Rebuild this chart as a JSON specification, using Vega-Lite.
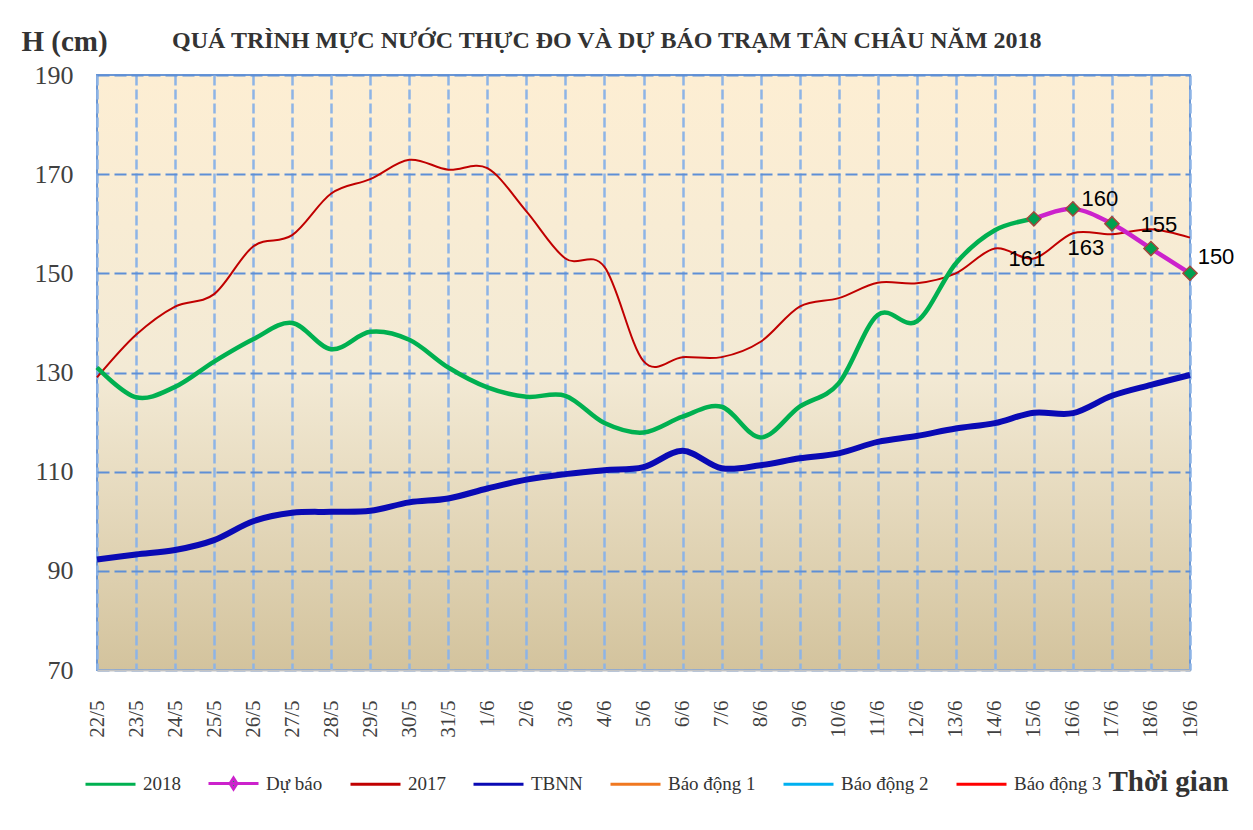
{
  "$schema": "https://vega.github.io/schema/vega-lite/v6.json",
  "width": 1093,
  "height": 595,
  "autosize": "none",
  "padding": {"left": 97, "top": 75, "right": 63, "bottom": 160},
  "background": "white",
  "title": {
    "text": "QUÁ TRÌNH MỰC NƯỚC THỰC ĐO VÀ DỰ BÁO TRẠM TÂN CHÂU NĂM 2018",
    "anchor": "start",
    "frame": "group",
    "dx": 75,
    "offset": -45,
    "baseline": "alphabetic",
    "font": "Liberation Serif",
    "fontSize": 24,
    "fontWeight": "bold",
    "color": "#333333"
  },
  "config": {
    "view": {
      "stroke": "#6A96D4",
      "strokeWidth": 2,
      "fill": {"gradient": "linear", "x1": 0, "y1": 0, "x2": 0, "y2": 1,
        "stops": [
          {"offset": 0, "color": "#FDEED3"},
          {"offset": 0.5, "color": "#F3EAD5"},
          {"offset": 1, "color": "#D3C39D"}
        ]}
    }
  },
  "datasets": {
    "w": [
      {"d": "22/5", "s": "2018", "v": 131}, {"d": "23/5", "s": "2018", "v": 125}, {"d": "24/5", "s": "2018", "v": 127.1}, {"d": "25/5", "s": "2018", "v": 132.2}, {"d": "26/5", "s": "2018", "v": 136.7}, {"d": "27/5", "s": "2018", "v": 140}, {"d": "28/5", "s": "2018", "v": 134.7}, {"d": "29/5", "s": "2018", "v": 138.2}, {"d": "30/5", "s": "2018", "v": 136.6}, {"d": "31/5", "s": "2018", "v": 131}, {"d": "1/6", "s": "2018", "v": 127}, {"d": "2/6", "s": "2018", "v": 125.1}, {"d": "3/6", "s": "2018", "v": 125.3}, {"d": "4/6", "s": "2018", "v": 119.8}, {"d": "5/6", "s": "2018", "v": 117.9}, {"d": "6/6", "s": "2018", "v": 121.1}, {"d": "7/6", "s": "2018", "v": 123.1}, {"d": "8/6", "s": "2018", "v": 116.9}, {"d": "9/6", "s": "2018", "v": 123.1}, {"d": "10/6", "s": "2018", "v": 127.8}, {"d": "11/6", "s": "2018", "v": 141.6}, {"d": "12/6", "s": "2018", "v": 140.3}, {"d": "13/6", "s": "2018", "v": 152}, {"d": "14/6", "s": "2018", "v": 158.7}, {"d": "15/6", "s": "2018", "v": 161},
      {"d": "15/6", "s": "Dự báo", "v": 161}, {"d": "16/6", "s": "Dự báo", "v": 163}, {"d": "17/6", "s": "Dự báo", "v": 160}, {"d": "18/6", "s": "Dự báo", "v": 155}, {"d": "19/6", "s": "Dự báo", "v": 150},
      {"d": "22/5", "s": "2017", "v": 129}, {"d": "23/5", "s": "2017", "v": 137.6}, {"d": "24/5", "s": "2017", "v": 143.3}, {"d": "25/5", "s": "2017", "v": 145.8}, {"d": "26/5", "s": "2017", "v": 155.4}, {"d": "27/5", "s": "2017", "v": 157.7}, {"d": "28/5", "s": "2017", "v": 166.1}, {"d": "29/5", "s": "2017", "v": 169}, {"d": "30/5", "s": "2017", "v": 172.9}, {"d": "31/5", "s": "2017", "v": 170.9}, {"d": "1/6", "s": "2017", "v": 171.2}, {"d": "2/6", "s": "2017", "v": 162.5}, {"d": "3/6", "s": "2017", "v": 153}, {"d": "4/6", "s": "2017", "v": 151.3}, {"d": "5/6", "s": "2017", "v": 132.3}, {"d": "6/6", "s": "2017", "v": 133.1}, {"d": "7/6", "s": "2017", "v": 133.1}, {"d": "8/6", "s": "2017", "v": 136.2}, {"d": "9/6", "s": "2017", "v": 143.3}, {"d": "10/6", "s": "2017", "v": 145}, {"d": "11/6", "s": "2017", "v": 148.1}, {"d": "12/6", "s": "2017", "v": 148}, {"d": "13/6", "s": "2017", "v": 150}, {"d": "14/6", "s": "2017", "v": 155}, {"d": "15/6", "s": "2017", "v": 153}, {"d": "16/6", "s": "2017", "v": 158.1}, {"d": "17/6", "s": "2017", "v": 157.9}, {"d": "18/6", "s": "2017", "v": 158.9}, {"d": "19/6", "s": "2017", "v": 157.2},
      {"d": "22/5", "s": "TBNN", "v": 92.3}, {"d": "23/5", "s": "TBNN", "v": 93.3}, {"d": "24/5", "s": "TBNN", "v": 94.2}, {"d": "25/5", "s": "TBNN", "v": 96.2}, {"d": "26/5", "s": "TBNN", "v": 100}, {"d": "27/5", "s": "TBNN", "v": 101.7}, {"d": "28/5", "s": "TBNN", "v": 101.9}, {"d": "29/5", "s": "TBNN", "v": 102.1}, {"d": "30/5", "s": "TBNN", "v": 103.8}, {"d": "31/5", "s": "TBNN", "v": 104.6}, {"d": "1/6", "s": "TBNN", "v": 106.6}, {"d": "2/6", "s": "TBNN", "v": 108.4}, {"d": "3/6", "s": "TBNN", "v": 109.5}, {"d": "4/6", "s": "TBNN", "v": 110.3}, {"d": "5/6", "s": "TBNN", "v": 110.9}, {"d": "6/6", "s": "TBNN", "v": 114.2}, {"d": "7/6", "s": "TBNN", "v": 110.7}, {"d": "8/6", "s": "TBNN", "v": 111.3}, {"d": "9/6", "s": "TBNN", "v": 112.7}, {"d": "10/6", "s": "TBNN", "v": 113.7}, {"d": "11/6", "s": "TBNN", "v": 116}, {"d": "12/6", "s": "TBNN", "v": 117.2}, {"d": "13/6", "s": "TBNN", "v": 118.7}, {"d": "14/6", "s": "TBNN", "v": 119.8}, {"d": "15/6", "s": "TBNN", "v": 121.9}, {"d": "16/6", "s": "TBNN", "v": 121.8}, {"d": "17/6", "s": "TBNN", "v": 125.3}, {"d": "18/6", "s": "TBNN", "v": 127.5}, {"d": "19/6", "s": "TBNN", "v": 129.5}
    ]
  },
  "data": {"name": "w"},
  "encoding": {
    "x": {
      "field": "d", "type": "ordinal",
      "scale": {"type": "point", "padding": 0, "domain": ["22/5","23/5","24/5","25/5","26/5","27/5","28/5","29/5","30/5","31/5","1/6","2/6","3/6","4/6","5/6","6/6","7/6","8/6","9/6","10/6","11/6","12/6","13/6","14/6","15/6","16/6","17/6","18/6","19/6"]},
      "axis": {
        "title": "Thời gian",
        "titleX": 1011, "titleY": 120, "titleAlign": "left", "titleBaseline": "alphabetic", "titleAngle": 0,
        "titleFont": "Liberation Serif", "titleFontSize": 29, "titleFontWeight": "bold", "titleColor": "#333333",
        "labelAngle": -90, "labelPadding": 30, "labelFont": "Liberation Serif", "labelFontSize": 21, "labelColor": "#404040",
        "ticks": false, "domainColor": "#C4C4C4", "domainWidth": 2,
        "grid": true, "gridColor": "#8DB4E6", "gridWidth": 2.5, "gridDash": [10, 4]
      }
    },
    "y": {
      "field": "v", "type": "quantitative",
      "scale": {"domain": [70, 190], "nice": false, "zero": false},
      "axis": {
        "values": [70, 90, 110, 130, 150, 170, 190],
        "title": "H (cm)",
        "titleAngle": 0, "titleX": -76, "titleY": -25, "titleAlign": "left", "titleBaseline": "alphabetic",
        "titleFont": "Liberation Serif", "titleFontSize": 29, "titleFontWeight": "bold", "titleColor": "#333333",
        "labelFont": "Liberation Serif", "labelFontSize": 26, "labelColor": "#404040", "labelPadding": 24,
        "ticks": false, "domain": false,
        "grid": true, "gridColor": "#5E8FD6", "gridWidth": 2, "gridDash": [12, 5]
      }
    },
    "color": {
      "field": "s", "type": "nominal",
      "scale": {
        "domain": ["2018", "Dự báo", "2017", "TBNN", "Báo động 1", "Báo động 2", "Báo động 3"],
        "range": ["#00B050", "#CC22CC", "#C00000", "#0A0AB4", "#F07820", "#00B0F0", "#FF0000"]
      },
      "legend": {
        "orient": "none", "legendX": -13, "legendY": 682, "direction": "horizontal", "title": null,
        "symbolType": "stroke", "symbolSize": 2500, "symbolStrokeWidth": 3,
        "labelFont": "Liberation Serif", "labelFontSize": 19, "labelColor": "#333333", "labelOffset": 6,
        "columnPadding": 21,
        "encode": {
          "symbols": {
            "update": {
              "shape": {"signal": "datum.value === 'Dự báo' ? 'M-1,0H1M0,-0.22L0.14,0L0,0.22L-0.14,0Z' : 'stroke'"},
              "fill": {"signal": "datum.value === 'Dự báo' ? '#00A050' : 'transparent'"}
            }
          }
        }
      }
    }
  },
  "layer": [
    {"transform": [{"filter": "datum.s === '2017'"}], "mark": {"type": "line", "interpolate": "cardinal", "strokeWidth": 2}},
    {"transform": [{"filter": "datum.s === 'TBNN'"}], "mark": {"type": "line", "interpolate": "cardinal", "strokeWidth": 6}},
    {"transform": [{"filter": "datum.s === '2018'"}], "mark": {"type": "line", "interpolate": "cardinal", "strokeWidth": 4.5}},
    {"transform": [{"filter": "datum.s === 'Dự báo'"}], "mark": {"type": "line", "interpolate": "cardinal", "strokeWidth": 4.5}},
    {"transform": [{"filter": "datum.s === 'Dự báo'"}], "mark": {"type": "point", "shape": "diamond", "filled": true, "size": 200, "opacity": 1, "color": "#00A050", "stroke": "#A0483C", "strokeWidth": 1.5}, "encoding": {"color": {"value": "#00A050"}}},
    {"transform": [{"filter": "datum.s === 'Dự báo' && datum.d === '15/6'"}], "mark": {"type": "text", "dx": -7, "dy": 40, "font": "Liberation Sans", "fontSize": 22}, "encoding": {"text": {"field": "v", "type": "quantitative"}, "color": {"value": "#000000"}}},
    {"transform": [{"filter": "datum.s === 'Dự báo' && datum.d === '16/6'"}], "mark": {"type": "text", "dx": 13, "dy": 39, "font": "Liberation Sans", "fontSize": 22}, "encoding": {"text": {"field": "v", "type": "quantitative"}, "color": {"value": "#000000"}}},
    {"transform": [{"filter": "datum.s === 'Dự báo' && datum.d === '17/6'"}], "mark": {"type": "text", "dx": -12, "dy": -25, "font": "Liberation Sans", "fontSize": 22}, "encoding": {"text": {"field": "v", "type": "quantitative"}, "color": {"value": "#000000"}}},
    {"transform": [{"filter": "datum.s === 'Dự báo' && datum.d === '18/6'"}], "mark": {"type": "text", "dx": 8, "dy": -24, "font": "Liberation Sans", "fontSize": 22}, "encoding": {"text": {"field": "v", "type": "quantitative"}, "color": {"value": "#000000"}}},
    {"transform": [{"filter": "datum.s === 'Dự báo' && datum.d === '19/6'"}], "mark": {"type": "text", "dx": 26, "dy": -16, "font": "Liberation Sans", "fontSize": 22}, "encoding": {"text": {"field": "v", "type": "quantitative"}, "color": {"value": "#000000"}}}
  ]
}
